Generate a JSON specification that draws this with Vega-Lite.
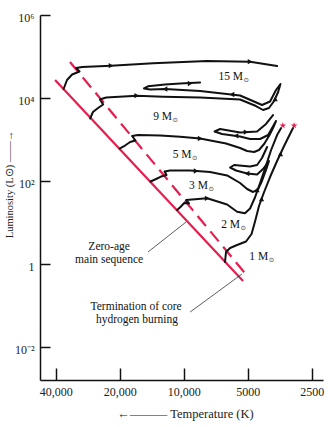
{
  "$schema": "https://vega.github.io/schema/vega-lite/v6.json",
  "width": 283,
  "height": 365,
  "autosize": "none",
  "padding": {"left": 40, "top": 15, "right": 12, "bottom": 47},
  "background": "white",
  "config": {"view": {"stroke": null}, "font": "Liberation Serif"},
  "datasets": {
    "zams": [
      {"logT": 4.605, "logL": 4.434},
      {"logT": 3.721, "logL": -0.41}
    ],
    "tams": [
      {"logT": 4.535, "logL": 4.867},
      {"logT": 3.697, "logL": -0.313}
    ],
    "pointers": [
      {"logT": 4.168, "logL": 0.289, "logT2": 3.989, "logL2": 1.012},
      {"logT": 3.970, "logL": -1.157, "logT2": 3.726, "logL2": -0.241}
    ],
    "tracks": [
      {"t": "15", "i": 1, "logT": 4.565, "logL": 4.217},
      {"t": "15", "i": 2, "logT": 4.549, "logL": 4.434},
      {"t": "15", "i": 3, "logT": 4.525, "logL": 4.566},
      {"t": "15", "i": 4, "logT": 4.490, "logL": 4.639},
      {"t": "15", "i": 5, "logT": 4.506, "logL": 4.723},
      {"t": "15", "i": 6, "logT": 4.478, "logL": 4.747},
      {"t": "15", "i": 7, "logT": 4.342, "logL": 4.778},
      {"t": "15", "i": 8, "logT": 4.144, "logL": 4.836},
      {"t": "15", "i": 9, "logT": 3.890, "logL": 4.892},
      {"t": "15", "i": 10, "logT": 3.688, "logL": 4.875},
      {"t": "15", "i": 11, "logT": 3.561, "logL": 4.771},

      {"t": "9", "i": 1, "logT": 4.440, "logL": 3.506},
      {"t": "9", "i": 2, "logT": 4.427, "logL": 3.663},
      {"t": "9", "i": 3, "logT": 4.403, "logL": 3.759},
      {"t": "9", "i": 4, "logT": 4.379, "logL": 3.843},
      {"t": "9", "i": 5, "logT": 4.394, "logL": 3.964},
      {"t": "9", "i": 6, "logT": 4.365, "logL": 4.012},
      {"t": "9", "i": 7, "logT": 4.221, "logL": 4.055},
      {"t": "9", "i": 8, "logT": 4.097, "logL": 4.031},
      {"t": "9", "i": 9, "logT": 3.923, "logL": 4.012},
      {"t": "9", "i": 10, "logT": 3.735, "logL": 3.964},
      {"t": "9", "i": 11, "logT": 3.660, "logL": 3.807},
      {"t": "9", "i": 12, "logT": 3.627, "logL": 3.711},
      {"t": "9", "i": 13, "logT": 3.599, "logL": 3.759},
      {"t": "9", "i": 14, "logT": 3.575, "logL": 3.928},
      {"t": "9", "i": 15, "logT": 3.556, "logL": 4.144},
      {"t": "9", "i": 16, "logT": 3.545, "logL": 4.337},
      {"t": "9", "i": 17, "logT": 3.566, "logL": 4.193},
      {"t": "9", "i": 18, "logT": 3.594, "logL": 3.916},
      {"t": "9", "i": 19, "logT": 3.632, "logL": 3.831},
      {"t": "9", "i": 20, "logT": 3.664, "logL": 3.904},
      {"t": "9", "i": 21, "logT": 3.735, "logL": 4.060},
      {"t": "9", "i": 22, "logT": 3.923, "logL": 4.169},
      {"t": "9", "i": 23, "logT": 4.088, "logL": 4.217},
      {"t": "9", "i": 24, "logT": 4.158, "logL": 4.205},
      {"t": "9", "i": 25, "logT": 4.187, "logL": 4.229},
      {"t": "9", "i": 26, "logT": 4.168, "logL": 4.282},
      {"t": "9", "i": 27, "logT": 4.088, "logL": 4.325},
      {"t": "9", "i": 28, "logT": 4.017, "logL": 4.349},
      {"t": "9", "i": 29, "logT": 3.923, "logL": 4.373},

      {"t": "5", "i": 1, "logT": 4.302, "logL": 2.783},
      {"t": "5", "i": 2, "logT": 4.276, "logL": 2.855},
      {"t": "5", "i": 3, "logT": 4.252, "logL": 2.940},
      {"t": "5", "i": 4, "logT": 4.227, "logL": 2.976},
      {"t": "5", "i": 5, "logT": 4.243, "logL": 3.084},
      {"t": "5", "i": 6, "logT": 4.215, "logL": 3.108},
      {"t": "5", "i": 7, "logT": 4.111, "logL": 3.096},
      {"t": "5", "i": 8, "logT": 4.017, "logL": 3.067},
      {"t": "5", "i": 9, "logT": 3.923, "logL": 3.024},
      {"t": "5", "i": 10, "logT": 3.801, "logL": 2.904},
      {"t": "5", "i": 11, "logT": 3.735, "logL": 2.795},
      {"t": "5", "i": 12, "logT": 3.702, "logL": 2.723},
      {"t": "5", "i": 13, "logT": 3.669, "logL": 2.699},
      {"t": "5", "i": 14, "logT": 3.646, "logL": 2.747},
      {"t": "5", "i": 15, "logT": 3.622, "logL": 2.892},
      {"t": "5", "i": 16, "logT": 3.599, "logL": 3.084},
      {"t": "5", "i": 17, "logT": 3.580, "logL": 3.277},
      {"t": "5", "i": 18, "logT": 3.566, "logL": 3.446},
      {"t": "5", "i": 19, "logT": 3.603, "logL": 3.108},
      {"t": "5", "i": 20, "logT": 3.641, "logL": 3.012},
      {"t": "5", "i": 21, "logT": 3.688, "logL": 3.012},
      {"t": "5", "i": 22, "logT": 3.735, "logL": 3.072},
      {"t": "5", "i": 23, "logT": 3.820, "logL": 3.133},
      {"t": "5", "i": 24, "logT": 3.855, "logL": 3.193},
      {"t": "5", "i": 25, "logT": 3.829, "logL": 3.253},
      {"t": "5", "i": 26, "logT": 3.735, "logL": 3.169},
      {"t": "5", "i": 27, "logT": 3.655, "logL": 3.193},
      {"t": "5", "i": 28, "logT": 3.613, "logL": 3.374},
      {"t": "5", "i": 29, "logT": 3.580, "logL": 3.590},

      {"t": "3", "i": 1, "logT": 4.156, "logL": 1.988},
      {"t": "3", "i": 2, "logT": 4.130, "logL": 2.048},
      {"t": "3", "i": 3, "logT": 4.107, "logL": 2.108},
      {"t": "3", "i": 4, "logT": 4.081, "logL": 2.145},
      {"t": "3", "i": 5, "logT": 4.090, "logL": 2.229},
      {"t": "3", "i": 6, "logT": 4.064, "logL": 2.253},
      {"t": "3", "i": 7, "logT": 3.970, "logL": 2.253},
      {"t": "3", "i": 8, "logT": 3.876, "logL": 2.217},
      {"t": "3", "i": 9, "logT": 3.796, "logL": 2.133},
      {"t": "3", "i": 10, "logT": 3.735, "logL": 1.952},
      {"t": "3", "i": 11, "logT": 3.702, "logL": 1.807},
      {"t": "3", "i": 12, "logT": 3.674, "logL": 1.735},
      {"t": "3", "i": 13, "logT": 3.650, "logL": 1.807},
      {"t": "3", "i": 14, "logT": 3.632, "logL": 2.000},
      {"t": "3", "i": 15, "logT": 3.613, "logL": 2.265},
      {"t": "3", "i": 16, "logT": 3.599, "logL": 2.482},
      {"t": "3", "i": 17, "logT": 3.627, "logL": 2.289},
      {"t": "3", "i": 18, "logT": 3.655, "logL": 2.157},
      {"t": "3", "i": 19, "logT": 3.702, "logL": 2.181},
      {"t": "3", "i": 20, "logT": 3.754, "logL": 2.253},
      {"t": "3", "i": 21, "logT": 3.782, "logL": 2.325},
      {"t": "3", "i": 22, "logT": 3.763, "logL": 2.386},
      {"t": "3", "i": 23, "logT": 3.688, "logL": 2.349},
      {"t": "3", "i": 24, "logT": 3.655, "logL": 2.386},
      {"t": "3", "i": 25, "logT": 3.632, "logL": 2.554},
      {"t": "3", "i": 26, "logT": 3.608, "logL": 2.819},

      {"t": "2", "i": 1, "logT": 4.031, "logL": 1.301},
      {"t": "2", "i": 2, "logT": 4.013, "logL": 1.386},
      {"t": "2", "i": 3, "logT": 3.998, "logL": 1.470},
      {"t": "2", "i": 4, "logT": 3.975, "logL": 1.458},
      {"t": "2", "i": 5, "logT": 3.989, "logL": 1.542},
      {"t": "2", "i": 6, "logT": 3.961, "logL": 1.554},
      {"t": "2", "i": 7, "logT": 3.890, "logL": 1.583},
      {"t": "2", "i": 8, "logT": 3.796, "logL": 1.434},
      {"t": "2", "i": 9, "logT": 3.749, "logL": 1.260},
      {"t": "2", "i": 10, "logT": 3.712, "logL": 1.222},
      {"t": "2", "i": 11, "logT": 3.688, "logL": 1.337},
      {"t": "2", "i": 12, "logT": 3.664, "logL": 1.614},
      {"t": "2", "i": 13, "logT": 3.641, "logL": 1.952},
      {"t": "2", "i": 14, "logT": 3.617, "logL": 2.313},
      {"t": "2", "i": 15, "logT": 3.589, "logL": 2.747},
      {"t": "2", "i": 16, "logT": 3.561, "logL": 3.108},
      {"t": "2", "i": 17, "logT": 3.542, "logL": 3.277},

      {"t": "1", "i": 1, "logT": 3.806, "logL": 0.048},
      {"t": "1", "i": 2, "logT": 3.801, "logL": 0.289},
      {"t": "1", "i": 3, "logT": 3.782, "logL": 0.386},
      {"t": "1", "i": 4, "logT": 3.749, "logL": 0.458},
      {"t": "1", "i": 5, "logT": 3.707, "logL": 0.542},
      {"t": "1", "i": 6, "logT": 3.681, "logL": 0.723},
      {"t": "1", "i": 7, "logT": 3.664, "logL": 1.036},
      {"t": "1", "i": 8, "logT": 3.646, "logL": 1.398},
      {"t": "1", "i": 9, "logT": 3.622, "logL": 1.735},
      {"t": "1", "i": 10, "logT": 3.594, "logL": 2.096},
      {"t": "1", "i": 11, "logT": 3.561, "logL": 2.482},
      {"t": "1", "i": 12, "logT": 3.528, "logL": 2.843},
      {"t": "1", "i": 13, "logT": 3.500, "logL": 3.133},
      {"t": "1", "i": 14, "logT": 3.486, "logL": 3.277}
    ],
    "arrows": [
      {"dir": "right", "logT": 4.342, "logL": 4.778},
      {"dir": "right", "logT": 3.688, "logL": 4.875},
      {"dir": "right", "logT": 4.221, "logL": 4.055},
      {"dir": "right", "logT": 3.970, "logL": 4.349},
      {"dir": "left", "logT": 4.088, "logL": 4.217},
      {"dir": "left", "logT": 3.773, "logL": 4.084},
      {"dir": "up", "logT": 3.570, "logL": 3.976},
      {"dir": "right", "logT": 3.923, "logL": 3.024},
      {"dir": "left", "logT": 3.754, "logL": 3.089},
      {"dir": "right", "logT": 3.707, "logL": 3.178},
      {"dir": "right", "logT": 3.942, "logL": 2.241},
      {"dir": "left", "logT": 3.702, "logL": 2.181},
      {"dir": "right", "logT": 3.890, "logL": 1.583},
      {"dir": "up", "logT": 3.655, "logL": 1.785},
      {"dir": "up", "logT": 3.634, "logL": 1.566},
      {"dir": "up", "logT": 3.545, "logL": 2.651}
    ],
    "stars": [
      {"logT": 3.534, "logL": 3.337},
      {"logT": 3.481, "logL": 3.337}
    ],
    "masses": [
      {"text": "15 M", "logT": 3.721, "logL": 4.506},
      {"text": "9 M", "logT": 4.055, "logL": 3.542},
      {"text": "5 M", "logT": 3.963, "logL": 2.627},
      {"text": "3 M", "logT": 3.886, "logL": 1.880},
      {"text": "2 M", "logT": 3.735, "logL": 0.940},
      {"text": "1 M", "logT": 3.603, "logL": 0.169}
    ],
    "labels": [
      {"text": "Zero-age", "logT": 4.351, "logL": 0.415},
      {"text": "main sequence", "logT": 4.351, "logL": 0.090},
      {"text": "Termination of core", "logT": 4.224, "logL": -1.045},
      {"text": "hydrogen burning", "logT": 4.220, "logL": -1.355}
    ]
  },
  "encoding": {
    "x": {
      "field": "logT",
      "type": "quantitative",
      "scale": {"domain": [3.345, 4.676], "reverse": true, "nice": false, "zero": false},
      "axis": {
        "values": [4.60206, 4.30103, 4, 3.69897, 3.39794],
        "labelExpr": "datum.value > 3.9 ? format(pow(10, datum.value), ',.0f') : format(pow(10, datum.value), '.0f')",
        "grid": false,
        "tickSize": -12,
        "tickWidth": 1.5,
        "tickColor": "#111",
        "domainColor": "#111",
        "domainWidth": 1.5,
        "labelPadding": 18,
        "labelFlush": false,
        "labelOverlap": false,
        "labelFont": "Liberation Serif",
        "labelFontSize": 12,
        "labelColor": "#222",
        "title": "←——— Temperature (K)",
        "titleFont": "Liberation Serif",
        "titleFontSize": 12.5,
        "titleFontWeight": "normal",
        "titleColor": "#222",
        "titleX": 145,
        "titleY": 33,
        "titleAlign": "center",
        "titleBaseline": "middle"
      }
    },
    "y": {
      "field": "logL",
      "type": "quantitative",
      "scale": {"domain": [-2.795, 6], "nice": false, "zero": false},
      "axis": {
        "values": [-2, 0, 2, 4, 6],
        "labelExpr": "datum.value == 6 ? '10⁶' : datum.value == 4 ? '10⁴' : datum.value == 2 ? '10²' : datum.value == 0 ? '1' : '10⁻²'",
        "grid": false,
        "tickSize": -10,
        "tickWidth": 1.5,
        "tickColor": "#111",
        "domainColor": "#111",
        "domainWidth": 1.5,
        "labelPadding": 16,
        "labelOffset": 2,
        "labelFlush": false,
        "labelOverlap": false,
        "labelFont": "Liberation Serif",
        "labelFontSize": 12,
        "labelColor": "#222",
        "title": "Luminosity (L⊙) ——→",
        "titleFont": "Liberation Serif",
        "titleFontSize": 10.5,
        "titleFontWeight": "normal",
        "titleColor": "#222",
        "titleAngle": 270,
        "titleX": -31,
        "titleY": 169,
        "titleAlign": "center",
        "titleBaseline": "middle"
      }
    }
  },
  "layer": [
    {
      "data": {"name": "tams"},
      "mark": {"type": "line", "color": "#e41e4f", "strokeWidth": 2.2, "strokeDash": [13, 7]},
      "encoding": {}
    },
    {
      "data": {"name": "zams"},
      "mark": {"type": "line", "color": "#e41e4f", "strokeWidth": 2.2},
      "encoding": {}
    },
    {
      "data": {"name": "pointers"},
      "mark": {"type": "rule", "color": "#333", "strokeWidth": 0.8},
      "encoding": {
        "x2": {"field": "logT2"},
        "y2": {"field": "logL2"}
      }
    },
    {
      "data": {"name": "tracks"},
      "mark": {"type": "line", "color": "#111", "strokeWidth": 2, "strokeJoin": "round", "strokeCap": "round"},
      "encoding": {
        "detail": {"field": "t", "type": "nominal"},
        "order": {"field": "i", "type": "quantitative"}
      }
    },
    {
      "data": {"name": "arrows"},
      "mark": {"type": "point", "filled": true, "color": "#111", "size": 28, "opacity": 1},
      "encoding": {
        "shape": {
          "field": "dir",
          "type": "nominal",
          "scale": {"domain": ["right", "left", "up"], "range": ["triangle-right", "triangle-left", "triangle-up"]},
          "legend": null
        }
      }
    },
    {
      "data": {"name": "stars"},
      "mark": {
        "type": "point",
        "filled": true,
        "color": "#e41e4f",
        "opacity": 1,
        "size": 50,
        "shape": "M0,-1L0.2245,-0.309L0.951,-0.309L0.3633,0.118L0.5878,0.809L0,0.382L-0.5878,0.809L-0.3633,0.118L-0.951,-0.309L-0.2245,-0.309Z"
      }
    },
    {
      "data": {"name": "masses"},
      "mark": {"type": "text", "font": "Liberation Serif", "fontSize": 11.5, "color": "#111", "align": "right", "baseline": "middle"},
      "encoding": {"text": {"field": "text", "type": "nominal"}}
    },
    {
      "data": {"name": "masses"},
      "mark": {"type": "text", "font": "DejaVu Sans", "fontSize": 6.5, "color": "#333", "align": "left", "baseline": "middle", "dx": 0.5, "dy": 3, "text": "⊙"}
    },
    {
      "data": {"name": "labels"},
      "mark": {"type": "text", "font": "Liberation Serif", "fontSize": 11.5, "color": "#111", "align": "center", "baseline": "middle"},
      "encoding": {"text": {"field": "text", "type": "nominal"}}
    }
  ]
}
